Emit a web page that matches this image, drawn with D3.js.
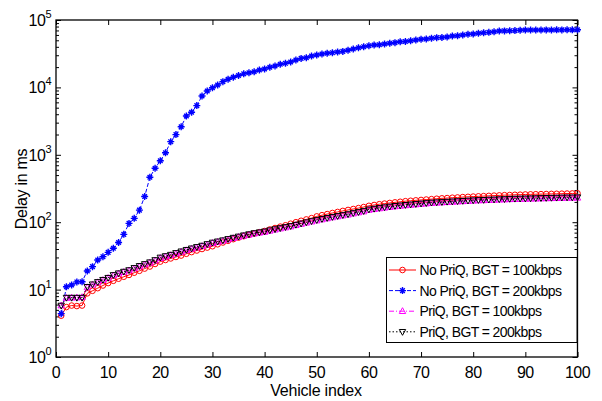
<!DOCTYPE html>
<html><head><meta charset="utf-8">
<script src="https://cdn.jsdelivr.net/npm/d3@7"></script>
<style>
body{margin:0;background:#fff;}
text{font-family:"Liberation Sans",Arial,sans-serif;}
</style></head><body>
<svg id="c" width="602" height="401"></svg>
<script>
const vehicleIndex = d3.range(1, 101);
const xTicks = [0,10,20,30,40,50,60,70,80,90,100];
const yExponents = [0,1,2,3,4,5];
const seriesNames = ["No PriQ, BGT = 100kbps","No PriQ, BGT = 200kbps","PriQ, BGT = 100kbps","PriQ, BGT = 200kbps"];

const noPriQ100 = [4.1,5.5,5.8,5.7,5.8,8.8,9.6,10.5,11.5,12.5,13.5,14.5,15.5,16.5,17.8,19,20.5,22,24,26,
27.5,29,30.5,32,34,36,38,40,42,44,47,50,53,56,59,62,65,68,71,74,
78,82,86,90,95,100,105,110,115,122,127,132,137,142,147,152,157,162,168,175,
180,185,189,193,197,201,205,208,211,214,217,220,223,226,228,231,233,236,238,240,
242,244,246,248,250,252,253,255,256,258,259,260,261,262,263,264,265,266,267,268];

const noPriQ200 = [4.4,11,11.7,13,13.1,18.9,21.9,27.5,30.8,35.7,41,50,66,96,114,151,240,464,631,818,
1073,1566,1995,2612,3767,4270,5370,7440,8850,9900,10860,12170,13200,14130,15000,15900,16500,17100,18130,18750,
19860,20800,22030,22760,23820,25500,26950,27570,29220,30200,31260,32040,32750,33500,34200,35500,37150,38800,40200,41600,
42600,42900,44000,45100,46100,47500,47900,49300,50500,51700,52300,53500,54700,55000,56000,57900,58500,59900,61300,62000,
63500,64600,65600,67000,68700,68900,69400,69600,70300,71100,71000,71200,71000,71300,71200,71400,71300,71500,71400,71600];

const priQ100 = [5.8,7.5,7.6,7.6,7.7,10.8,11.8,12.8,13.8,14.8,16.2,17.2,18.2,19.2,20.6,22,23.5,25,27,29.3,
30.8,32.3,34.2,36.2,38.2,40.2,42.1,44,46.5,49,51,53,55.3,57.8,60.2,62.7,65.1,67.6,69.6,71.5,
74.5,77.4,80.4,83.3,86.2,90.1,94,98,101.9,105.8,109.7,113.6,117.6,121.5,125.4,129.3,134.2,139.1,144,151.8,
155.8,159.7,163.6,167.5,171.4,174.4,177.3,180.2,183.2,186.1,189,192,194,196,197.9,199.9,201.8,203.8,205.8,207.7,
209.7,210.7,212.6,213.6,215.6,216.5,218.5,219.5,220.5,221.4,222.4,223.4,224.4,225.4,226.3,227.3,228.3,229.3,229.5,230];

const priQ200 = [5.8,7.6,7.6,7.6,7.6,11,12,13,14,15,16.5,17.5,18.5,19.5,21,22.5,24,25.5,27.5,30,
31.5,33,35,37,39,41,43,45,47.5,50,52,54,56.5,59,61.5,64,66.5,69,71,73,
76,79,82,85,88,92,96,100,104,108,112,116,120,124,128,132,137,142,147,155,
159,163,167,171,175,178,181,184,187,190,193,196,198,200,202,204,206,208,210,212,
214,215,217,218,220,221,223,224,225,226,227,228,229,230,231,232,233,234,234,235];

const svg = d3.select("#c");
const L=56, R=577.5, T=20, B=357;
const x = d3.scaleLinear().domain([0,100]).range([L,R]);
const y = d3.scaleLog().domain([1,1e5]).range([B,T]);

svg.append("rect").attr("x",L).attr("y",T).attr("width",R-L).attr("height",B-T)
  .attr("fill","none").attr("stroke","#000").attr("stroke-width",1.3);

const minors=[];
for(let e=0;e<5;e++) for(let k=2;k<=9;k++) minors.push(k*Math.pow(10,e));
const majors = yExponents.map(e=>Math.pow(10,e));

function styleAxis(g){ g.select(".domain").remove(); g.selectAll("line").attr("stroke","#000").attr("stroke-width",1); }

svg.append("g").attr("transform",`translate(0,${B})`).call(d3.axisBottom(x).tickValues(xTicks).tickSize(-5).tickFormat("")).call(styleAxis);
svg.append("g").attr("transform",`translate(0,${T})`).call(d3.axisTop(x).tickValues(xTicks).tickSize(-5).tickFormat("")).call(styleAxis);
svg.append("g").attr("transform",`translate(${L},0)`).call(d3.axisLeft(y).tickValues(majors).tickSize(-5).tickFormat("")).call(styleAxis);
svg.append("g").attr("transform",`translate(${L},0)`).call(d3.axisLeft(y).tickValues(minors).tickSize(-3).tickFormat("")).call(styleAxis);
svg.append("g").attr("transform",`translate(${R},0)`).call(d3.axisRight(y).tickValues(majors).tickSize(-5).tickFormat("")).call(styleAxis);
svg.append("g").attr("transform",`translate(${R},0)`).call(d3.axisRight(y).tickValues(minors).tickSize(-3).tickFormat("")).call(styleAxis);

svg.selectAll(".xl").data(xTicks).enter().append("text")
  .attr("x",d=>x(d)).attr("y",378).attr("text-anchor","middle")
  .attr("font-size",16).attr("letter-spacing",-0.5).text(d=>d);

yExponents.forEach(e=>{
  const t = svg.append("text").attr("x",51).attr("y",y(Math.pow(10,e))+6).attr("text-anchor","end")
    .attr("font-size",16).attr("letter-spacing",-0.5);
  t.append("tspan").text("10");
  t.append("tspan").attr("font-size",11).attr("dy",-8).text(e);
});

svg.append("text").attr("x",316).attr("y",396).attr("text-anchor","middle").attr("font-size",16).attr("letter-spacing",-0.2).text("Vehicle index");
svg.append("text").attr("transform","translate(27,189) rotate(-90)").attr("text-anchor","middle").attr("font-size",16).attr("letter-spacing",-0.3).text("Delay in ms");

const series = [
  {name:seriesNames[0], data:noPriQ100, color:"#ff0000", dash:null, marker:"circle"},
  {name:seriesNames[1], data:noPriQ200, color:"#0000ff", dash:"4,2", marker:"star"},
  {name:seriesNames[2], data:priQ100, color:"#ff00ff", dash:"5,2,1,2", marker:"tri"},
  {name:seriesNames[3], data:priQ200, color:"#000000", dash:"1.5,2", marker:"dtri"},
];

const line = d3.line().x((d,i)=>x(vehicleIndex[i])).y(d=>y(d));

function drawMarker(g, type, color){
  if(type==="circle") g.append("circle").attr("r",2.8).attr("fill","none").attr("stroke",color).attr("stroke-width",1);
  else if(type==="star") g.append("path").attr("d","M-3.5,0H3.5M0,-3.5V3.5M-2.3,-2.3L2.3,2.3M-2.3,2.3L2.3,-2.3").attr("stroke",color).attr("stroke-width",1.4);
  else if(type==="tri") g.append("path").attr("d","M0,-3.5L3.2,2.3L-3.2,2.3Z").attr("fill","none").attr("stroke",color).attr("stroke-width",1);
  else if(type==="dtri") g.append("path").attr("d","M0,3.5L3.2,-2.3L-3.2,-2.3Z").attr("fill","none").attr("stroke",color).attr("stroke-width",1);
}

const plot = svg.append("g");
series.forEach(s=>{
  plot.append("path").datum(s.data).attr("d",line).attr("fill","none").attr("stroke",s.color)
    .attr("stroke-width",1).attr("stroke-dasharray",s.dash);
  s.data.forEach((v,i)=>{
    const g = plot.append("g").attr("transform",`translate(${x(vehicleIndex[i])},${y(v)})`);
    drawMarker(g, s.marker, s.color);
  });
});

const lg = svg.append("g");
lg.append("rect").attr("x",386.5).attr("y",257.5).attr("width",190.5).attr("height",85).attr("fill","#fff").attr("stroke","#000").attr("stroke-width",1);
series.forEach((s,i)=>{
  const yy = 270 + i*20.6;
  lg.append("line").attr("x1",389).attr("x2",416).attr("y1",yy).attr("y2",yy).attr("stroke",s.color).attr("stroke-width",1).attr("stroke-dasharray",s.dash);
  const g = lg.append("g").attr("transform",`translate(402.5,${yy})`);
  drawMarker(g, s.marker, s.color);
  lg.append("text").attr("x",419.5).attr("y",yy+5).attr("font-size",14).attr("letter-spacing",-0.6).text(s.name);
});
</script></body></html>
